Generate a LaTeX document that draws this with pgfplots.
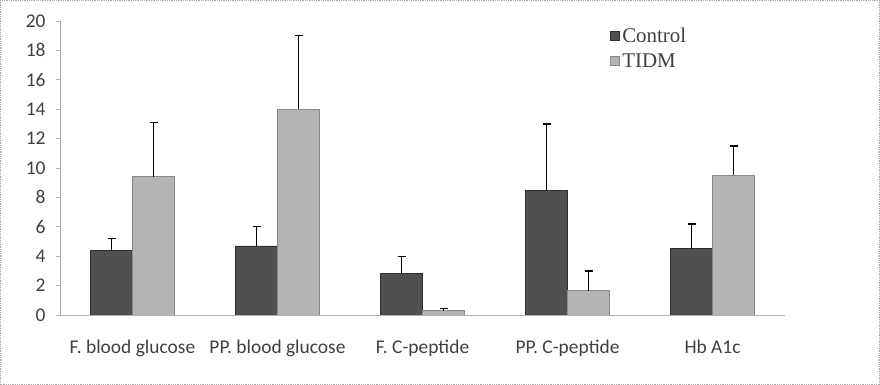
\documentclass[border=0pt]{standalone}
\usepackage{pgfplots}
\pgfplotsset{compat=1.18}
\usepackage{fontspec}
\setmainfont{Carlito}
\newfontfamily\seriffont{Liberation Serif}
\definecolor{ctrl}{HTML}{505050}
\definecolor{ctrledge}{HTML}{2E2E2E}
\definecolor{tidm}{HTML}{B4B4B4}
\definecolor{tidmedge}{HTML}{8A8A8A}
\definecolor{txt}{HTML}{404040}
\definecolor{axisgray}{HTML}{B0B0B0}
\pgfplotstableread{
x val err
0 4.4 0.8
1 4.7 1.3
2 2.8 1.2
3 8.5 4.5
4 4.5 1.7
}\control
\pgfplotstableread{
x val err
0 9.4 3.7
1 14.0 5.0
2 0.3 0.15
3 1.65 1.35
4 9.5 2.0
}\tidmdata
\begin{document}
\begin{tikzpicture}
\useasboundingbox (0,0) rectangle (880bp,385bp);
\draw[gray!70, densely dotted, line width=0.8pt] (0.5bp,0.5bp) rectangle (879.5bp,384.5bp);
\begin{axis}[
  at={(60bp,70bp)}, anchor=south west,
  scale only axis, width=725bp, height=294bp,
  ybar=0pt, bar width=42bp,
  xmin=-0.5, xmax=4.5, ymin=0, ymax=20,
  xtick={0,...,4},
  xticklabels={F. blood glucose, PP. blood glucose, F. C-peptide, PP. C-peptide, Hb A1c},
  minor xtick={-0.5,0.5,...,4.5},
  ytick={0,2,...,20},
  axis x line*=bottom, axis y line*=left,
  axis line style={axisgray, line width=0.8pt},
  every tick/.style={axisgray, line width=0.8pt},
  tick align=outside,
  major tick length=4bp, minor tick length=5bp,
  xtick style={draw=none},
  minor x tick style={axisgray, line width=0.8pt},
  x tick label style={yshift=-17bp},
  y tick label style={xshift=-7bp},
  tick label style={font=\fontsize{19.5}{22}\selectfont, text=txt},
  /pgf/number format/assume math mode=true,
  legend style={at={(0.759,0.985)}, anchor=north west, draw=none, fill=none,
    font=\seriffont\fontsize{21}{24}\selectfont, text=txt,
    row sep=6bp, inner sep=0bp,
    /tikz/every even column/.append style={column sep=3bp}},
  legend cell align=left,
  legend image code/.code={\fill[#1] (1bp,-4.5bp) rectangle (10bp,4.5bp);},
  error bars/y dir=plus, error bars/y explicit,
  error bars/error bar style={black, line width=1.4pt},
  error bars/error mark options={black, line width=1.4pt, mark size=4bp, rotate=90},
]
\addplot[fill=ctrl, draw=ctrledge, line width=0.8pt] table[x=x, y=val, y error=err] {\control};
\addplot[fill=tidm, draw=tidmedge, line width=0.8pt] table[x=x, y=val, y error=err] {\tidmdata};
\legend{Control, TIDM}
\end{axis}
\end{tikzpicture}
\end{document}
